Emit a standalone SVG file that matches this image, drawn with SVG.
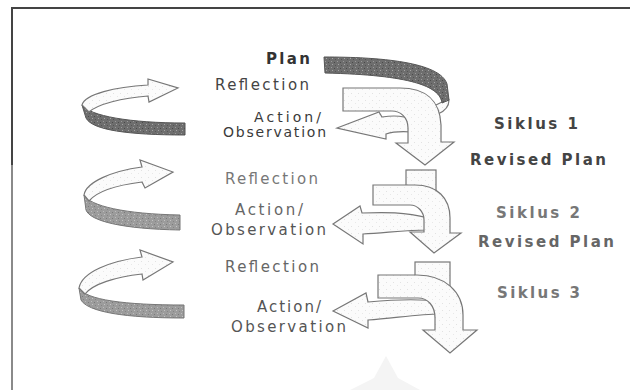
<svg xmlns="http://www.w3.org/2000/svg" width="630" height="390" viewBox="0 0 630 390">
<defs>
<pattern id="darkgrain" width="6" height="6" patternUnits="userSpaceOnUse">
<rect width="6" height="6" fill="#6e6e6e"/>
<rect x="1" y="1" width="1" height="1" fill="#9a9a9a"/>
<rect x="4" y="2" width="1" height="1" fill="#4a4a4a"/>
<rect x="2" y="4" width="1" height="1" fill="#a5a5a5"/>
<rect x="5" y="5" width="1" height="1" fill="#555"/>
</pattern>
<pattern id="midgrain" width="6" height="6" patternUnits="userSpaceOnUse">
<rect width="6" height="6" fill="#9c9c9c"/>
<rect x="1" y="1" width="1" height="1" fill="#bdbdbd"/>
<rect x="4" y="2" width="1" height="1" fill="#7a7a7a"/>
<rect x="2" y="4" width="1" height="1" fill="#c4c4c4"/>
<rect x="5" y="5" width="1" height="1" fill="#858585"/>
</pattern>
<pattern id="lightgrain" width="7" height="7" patternUnits="userSpaceOnUse">
<rect width="7" height="7" fill="#fbfbfb"/>
<rect x="1" y="2" width="1" height="1" fill="#e2e2e2"/>
<rect x="5" y="5" width="1" height="1" fill="#e8e8e8"/>
</pattern>
</defs>
<style>
.dk{fill:url(#darkgrain);stroke:#555;stroke-width:1}
.md{fill:url(#midgrain);stroke:#777;stroke-width:1}
.wh{fill:url(#lightgrain);stroke:#777;stroke-width:1.2;stroke-linejoin:miter}
.lbl{font-family:"DejaVu Sans",Verdana,sans-serif}
.bd{font-family:"DejaVu Sans",Verdana,sans-serif;font-weight:bold;font-size:15px}
</style>
<rect width="630" height="390" fill="#fff"/>
<g id="frame">
<line x1="11" y1="8" x2="630" y2="8" stroke="#444" stroke-width="2"/>
<line x1="12" y1="8" x2="12" y2="165" stroke="#444" stroke-width="2"/>
<line x1="12" y1="165" x2="12" y2="390" stroke="#8a8a8a" stroke-width="2"/>
</g>
<g id="watermark">
<path d="M386,356 L398,378 L420,390 L350,390 L374,378 Z" fill="#f4f4f4"/>
</g>
<g id="connectors">
<g id="loop1">
<path class="dk" d="M82,105 C 90,116 130,123 185,123 L185,135 C 128,135 92,130 86,118 Z"/>
<path class="wh" d="M82,105 C 85,94 115,87 148,85 L148,79 L178,88 L149,102 L148,96 C 122,98 98,104 89,112 Z"/>
</g>
<g id="loop2">
<path class="md" d="M84,195 C 90,206 125,214 180,215 L180,230 C 122,229 90,221 86,210 Z"/>
<path class="wh" d="M84,195 C 86,182 112,171 142,167 L140,160 L173,172 L145,188 L142,182 C 118,185 98,190 89,201 Z"/>
</g>
<g id="loop3">
<path class="md" d="M79,288 C 86,300 125,305 184,305 L184,318 C 125,318 88,312 81,300 Z"/>
<path class="wh" d="M79,288 C 82,272 110,261 142,257 L140,250 L173,262 L143,280 L142,274 C 115,277 93,284 85,294 Z"/>
</g>
<g id="turn1">
<path class="wh" d="M337,128 L379,112 L382,117 C 395,115 405,116 412,120 L412,132 C 400,131 392,132 386,134 L386,139 Z"/>
<path class="wh" d="M442,102 L449,100 C 449,106 445,111 438,114 L434,106 Z"/>
<path class="wh" d="M343,88 L400,88 C 425,88 440,100 441,125 L441,142 L454,142 L425,165 L396,143 L408,143 L408,128 C 408,117 400,111 392,111 L343,111 Z"/>
<path class="dk" d="M324,57 C 380,57 440,62 447,84 L449,100 L442,103 C 440,86 410,75 325,73 Z"/>
</g>
<g id="turn2">
<rect class="wh" x="406" y="170" width="30" height="22"/>
<path class="wh" d="M333,224 L360,206 L362,213 C 385,212 405,212 428,218 L428,230 C 405,230 385,233 363,234 L363,244 Z"/>
<path class="wh" d="M373,185 L415,185 C 437,185 450,198 450,218 L450,233 L461,233 L434,253 L410,232 L424,232 L424,220 C 424,212 418,205 410,205 L373,205 Z"/>
</g>
<g id="turn3">
<rect class="wh" x="415" y="262" width="35" height="25"/>
<path class="wh" d="M333,311 L366,293 L368,302 C 390,300 420,298 440,302 L440,314 C 420,314 395,318 368,320 L368,328 Z"/>
<path class="wh" d="M378,275 L417,275 C 445,275 463,292 463,315 L463,330 L477,330 L450,353 L423,330 L435,330 L435,318 C 435,306 428,298 418,298 L378,298 Z"/>
</g>
</g>
<g id="plan"><text class="lbl" x="266" y="64" font-size="15" font-weight="bold" fill="#333" textLength="44" lengthAdjust="spacing">Plan</text></g>
<g id="reflection1"><text class="lbl" x="215" y="90" font-size="15" fill="#444" textLength="94" lengthAdjust="spacing">Reflection</text></g>
<g id="action1"><text class="lbl" x="254" y="122" font-size="14" fill="#3a3a3a" textLength="67" lengthAdjust="spacing">Action/</text><text class="lbl" x="223" y="137" font-size="14" fill="#3a3a3a" textLength="103" lengthAdjust="spacing">Observation</text></g>
<g id="siklus1"><text class="bd" x="494" y="129" fill="#444" textLength="84" lengthAdjust="spacing">Siklus 1</text></g>
<g id="revised1"><text class="bd" x="470" y="165" fill="#444" textLength="136" lengthAdjust="spacing">Revised Plan</text></g>
<g id="reflection2"><text class="lbl" x="225" y="184" font-size="15" fill="#777" textLength="93" lengthAdjust="spacing">Reflection</text></g>
<g id="action2"><text class="lbl" x="235" y="215" font-size="15" fill="#666" textLength="68" lengthAdjust="spacing">Action/</text><text class="lbl" x="211" y="235" font-size="15" fill="#555" textLength="115" lengthAdjust="spacing">Observation</text></g>
<g id="siklus2"><text class="bd" x="496" y="218" fill="#777" textLength="84" lengthAdjust="spacing">Siklus 2</text></g>
<g id="revised2"><text class="bd" x="478" y="247" fill="#666" textLength="136" lengthAdjust="spacing">Revised Plan</text></g>
<g id="reflection3"><text class="lbl" x="225" y="272" font-size="15" fill="#666" textLength="94" lengthAdjust="spacing">Reflection</text></g>
<g id="siklus3"><text class="bd" x="497" y="298" fill="#777" textLength="83" lengthAdjust="spacing">Siklus 3</text></g>
<g id="action3"><text class="lbl" x="257" y="312" font-size="15" fill="#555" textLength="64" lengthAdjust="spacing">Action/</text><text class="lbl" x="231" y="332" font-size="15" fill="#555" textLength="115" lengthAdjust="spacing">Observation</text></g>
</svg>
